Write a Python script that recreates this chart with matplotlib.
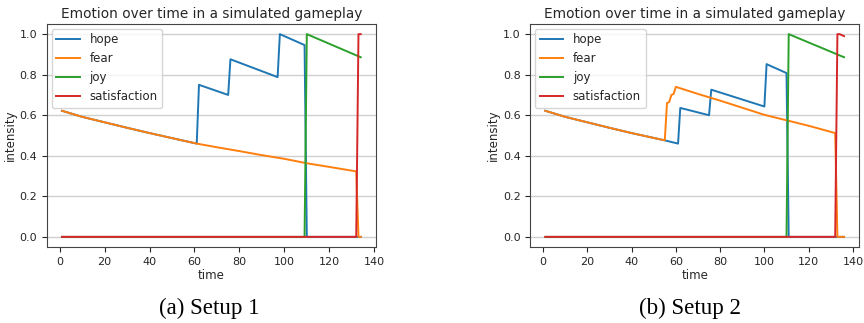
import matplotlib
matplotlib.use("Agg")
import matplotlib.pyplot as plt

# setup 1
s1_hope_t = [1, 10, 20, 30, 40, 50, 61, 62, 75, 76, 97, 98, 109, 110, 134]
s1_hope_v = [0.622, 0.592, 0.565, 0.538, 0.512, 0.487, 0.460, 0.750, 0.700, 0.876, 0.788, 1.0, 0.946, 0.0, 0.0]
s1_fear_t = [1, 10, 20, 30, 40, 50, 61, 70, 80, 90, 100, 110, 120, 132, 133, 134]
s1_fear_v = [0.622, 0.592, 0.565, 0.538, 0.512, 0.487, 0.460, 0.442, 0.423, 0.403, 0.385, 0.363, 0.345, 0.323, 0.0, 0.0]
s1_joy_t = [1, 109, 110, 134]
s1_joy_v = [0.0, 0.0, 1.0, 0.886]
s1_sat_t = [1, 132, 133, 134]
s1_sat_v = [0.0, 0.0, 1.0, 1.0]

# setup 2
s2_hope_t = [1, 10, 20, 30, 40, 50, 55, 61, 62, 75, 76, 100, 101, 110, 111, 136]
s2_hope_v = [0.622, 0.592, 0.565, 0.538, 0.512, 0.488, 0.476, 0.460, 0.636, 0.600, 0.726, 0.643, 0.852, 0.808, 0.0, 0.0]
s2_fear_t = [1, 10, 20, 30, 40, 50, 55, 56, 57, 58, 59, 60, 70, 80, 90, 100, 110, 120, 132, 133, 136]
s2_fear_v = [0.622, 0.592, 0.565, 0.538, 0.512, 0.488, 0.476, 0.660, 0.665, 0.700, 0.705, 0.740, 0.705,
             0.672, 0.637, 0.602, 0.575, 0.548, 0.512, 0.0, 0.0]
s2_joy_t = [1, 110, 111, 136]
s2_joy_v = [0.0, 0.0, 1.0, 0.886]
s2_sat_t = [1, 132, 133, 134, 136]
s2_sat_v = [0.0, 0.0, 1.0, 1.0, 0.99]

labels = ["hope", "fear", "joy", "satisfaction"]
colors = ["#1f77b4", "#ff7f0e", "#2ca02c", "#d62728"]
captions = ["(a) Setup 1", "(b) Setup 2"]

setups = [
    [(s1_hope_t, s1_hope_v), (s1_fear_t, s1_fear_v), (s1_joy_t, s1_joy_v), (s1_sat_t, s1_sat_v)],
    [(s2_hope_t, s2_hope_v), (s2_fear_t, s2_fear_v), (s2_joy_t, s2_joy_v), (s2_sat_t, s2_sat_v)],
]

txt = "#262626"
fig = plt.figure(figsize=(8.64, 3.23), dpi=100)
lefts = [0.0544, 0.6138]
cap_x = [0.2425, 0.799]

for k, series in enumerate(setups):
    ax = fig.add_axes([lefts[k], 0.2353, 0.3804, 0.6904])
    for (t, v), lab, c in zip(series, labels, colors):
        ax.plot(t, v, color=c, lw=1.4, label=lab)
    ax.grid(axis="y", color="#d0d0d0", lw=1.0)
    ax.set_axisbelow(True)
    ax.set_yticks([0.0, 0.2, 0.4, 0.6, 0.8, 1.0])
    ax.set_xticks([0, 20, 40, 60, 80, 100, 120, 140])
    ax.tick_params(labelsize=8, colors=txt, length=3.5)
    for sp in ax.spines.values():
        sp.set_color("#444444")
    ax.set_title("Emotion over time in a simulated gameplay", fontsize=9.8, color=txt, pad=4)
    ax.set_xlabel("time", fontsize=8.5, color=txt, labelpad=2)
    ax.set_ylabel("intensity", fontsize=8.5, color=txt, labelpad=2)
    leg = ax.legend(loc="upper left", fontsize=8.5, handlelength=2.0, borderaxespad=0.4)
    for tx in leg.get_texts():
        tx.set_color(txt)
    fig.text(cap_x[k], 0.028, captions[k],
             family="Liberation Serif", fontsize=16.6, ha="center", va="baseline", color="black")

fig.savefig("out.png", dpi=100)
